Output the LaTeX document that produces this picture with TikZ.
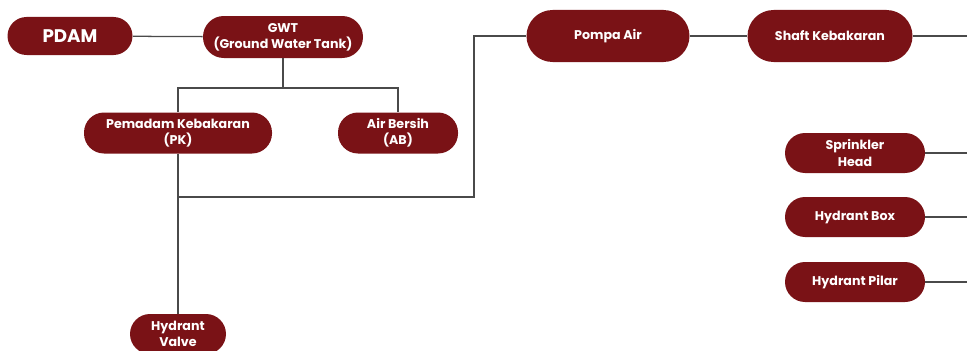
\documentclass[tikz,border=0pt]{standalone}
\usepackage{fontspec}
\newfontfamily\boxfont{Poppins}
\definecolor{tankred}{HTML}{7A1216}
\definecolor{pipegray}{HTML}{4A4A4A}
\tikzset{
  unit/.style={fill=tankred, text=white, rounded corners=0.5cm, align=center,
    inner sep=1pt, minimum height=1cm, font=\boxfont\bfseries\fontsize{9}{11.5}\selectfont},
  pipe/.style={draw=pipegray, line width=0.9pt}
}
\begin{document}
\begin{tikzpicture}
\useasboundingbox (0,0) rectangle (24.175,-8.775);
\begin{scope}
\clip (0,0) rectangle (24.175,-8.775);
\node[unit, minimum width=3.125cm, minimum height=0.95cm, rounded corners=0.475cm, font=\boxfont\bfseries\fontsize{13}{15}\selectfont] (pdam) at (1.75,-0.9) {PDAM};
\node[unit, minimum width=4cm, minimum height=1.05cm, rounded corners=0.52cm] (gwt) at (7.075,-0.925) {GWT\\(Ground Water Tank)};
\node[unit, minimum width=4.7cm, minimum height=1.025cm] (pk) at (4.45,-3.325) {Pemadam Kebakaran\\(PK)};
\node[unit, minimum width=3cm, minimum height=1.025cm] (ab) at (9.95,-3.325) {Air Bersih\\(AB)};
\node[unit, minimum width=4.075cm, minimum height=1.3cm, rounded corners=0.65cm] (pompa) at (15.2,-0.9) {Pompa Air};
\node[unit, minimum width=4.125cm, minimum height=1.3cm, rounded corners=0.65cm] (shaft) at (20.75,-0.9) {Shaft Kebakaran};
\node[unit, minimum width=3.5cm] (sprinkler) at (21.375,-3.825) {Sprinkler\\Head};
\node[unit, minimum width=3.5cm] (hbox) at (21.375,-5.425) {Hydrant Box};
\node[unit, minimum width=3.5cm] (hpilar) at (21.375,-7.05) {Hydrant Pilar};
\node[unit, minimum width=2.4cm] (hvalve) at (4.45,-8.35) {Hydrant\\Valve};
\end{scope}

% free ends at the right edge
\coordinate (e1) at (24.175,-0.9);
\coordinate (e2) at (24.175,-3.825);
\coordinate (e3) at (24.175,-5.425);
\coordinate (e4) at (24.175,-7.05);
\coordinate (split) at (7.075,-2.2);
\coordinate (tee) at (4.45,-4.925);
\coordinate (riser) at (11.85,-4.925);

\draw[pipe] (pdam) -- (gwt);
\draw[pipe] (gwt.south) -- (split);
\draw[pipe] (pk.north) |- (split) -| (ab.north);
\draw[pipe] (pk.south) -- (hvalve.north);
\draw[pipe] (tee) -- (riser) |- (pompa.west);
\draw[pipe] (pompa) -- (shaft);
\draw[pipe] (shaft) -- (e1);
\draw[pipe] (sprinkler) -- (e2);
\draw[pipe] (hbox) -- (e3);
\draw[pipe] (hpilar) -- (e4);
\end{tikzpicture}
\end{document}
